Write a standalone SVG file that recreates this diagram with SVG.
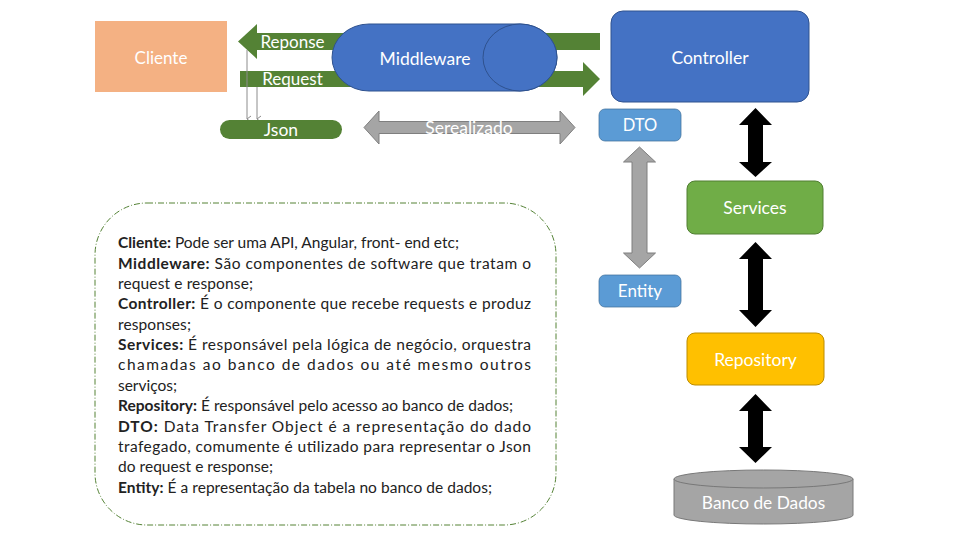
<svg xmlns="http://www.w3.org/2000/svg" width="960" height="540" viewBox="0 0 960 540">
<style>
.lbl{font-family:Lato,"Open Sans","Liberation Sans",sans-serif;fill:#fff;text-anchor:middle}
.body{font-family:Lato,"Open Sans","Liberation Sans",sans-serif;font-size:15.5px;fill:#222}
.b{font-weight:bold}
</style>
<defs>
<marker id="thin" markerWidth="8" markerHeight="8" refX="4" refY="7" orient="auto-start-reverse" markerUnits="userSpaceOnUse" viewBox="0 0 8 8">
<polyline points="1,3 4,7 7,3" fill="none" stroke="#8c8c8c" stroke-width="1"/>
</marker>
</defs>
<rect width="960" height="540" fill="#fff"/>
<g id="connectors">
<polygon points="238,41.5 257,24 257,33 600,33 600,50 257,50 257,59" fill="#548235"/>
<polygon points="240,71 583,71 583,62 600,79 583,96 583,87 240,87" fill="#548235"/>
<line x1="247" y1="50" x2="247" y2="119" stroke="#8c8c8c" stroke-width="1" marker-end="url(#thin)"/>
<line x1="257" y1="87" x2="257" y2="119" stroke="#8c8c8c" stroke-width="1" marker-end="url(#thin)"/>
<polygon points="364,127.5 379,111 379,121.5 560,121.5 560,111 575,127.5 560,144 560,133.5 379,133.5 379,144" fill="#A5A5A5" stroke="#7F7F7F" stroke-width="1"/>
<polygon points="639.5,147 655.5,162 647,162 647,253 655.5,253 639.5,268 623.5,253 632,253 632,162 623.5,162" fill="#A5A5A5" stroke="#7F7F7F" stroke-width="1"/>
<polygon points="755.5,108 772,125 763,125 763,162 772,162 755.5,177 739,162 748,162 748,125 739,125" fill="#000"/>
<polygon points="755.5,242 772,259 763,259 763,310 772,310 755.5,327 739,310 748,310 748,259 739,259" fill="#000"/>
<polygon points="755.5,394 772,411 763,411 763,447 772,447 755.5,463 739,447 748,447 748,411 739,411" fill="#000"/>
<text class="lbl" x="292.5" y="47.5" font-size="17">Reponse</text>
<text class="lbl" x="292.5" y="85" font-size="17">Request</text>
<text class="lbl" x="469" y="133.5" font-size="17.5">Serealizado</text>
</g>
<g id="cliente">
<rect x="95" y="21" width="132" height="71" fill="#F4B183"/>
<text class="lbl" x="161" y="64" font-size="17">Cliente</text>
</g>
<g id="middleware">
<path d="M369 24 H520 A37 33.5 0 0 1 520 91 H369 A37 33.5 0 0 1 369 24 Z" fill="#4472C4" stroke="#2F528F" stroke-width="1"/>
<ellipse cx="520" cy="57.5" rx="37" ry="33.5" fill="#4472C4" stroke="#2F528F" stroke-width="1"/>
<text class="lbl" x="425" y="64.5" font-size="17.5">Middleware</text>
</g>
<g id="json">
<rect x="220" y="120" width="122" height="19" rx="9.5" fill="#548235"/>
<text class="lbl" x="281" y="136" font-size="17.5">Json</text>
</g>
<g id="controller">
<rect x="611" y="11" width="198" height="91" rx="12" fill="#4472C4" stroke="#2F528F" stroke-width="1"/>
<text class="lbl" x="710" y="64" font-size="17.5">Controller</text>
</g>
<g id="dto">
<rect x="599" y="109" width="82" height="32" rx="6" fill="#5B9BD5" stroke="#41719C" stroke-width="0.75"/>
<text class="lbl" x="640" y="131" font-size="16.5">DTO</text>
</g>
<g id="entity">
<rect x="599" y="275" width="82" height="32" rx="6" fill="#5B9BD5" stroke="#41719C" stroke-width="0.75"/>
<text class="lbl" x="640" y="297" font-size="17">Entity</text>
</g>
<g id="services">
<rect x="687" y="181" width="136" height="53" rx="8" fill="#70AD47" stroke="#507E32" stroke-width="1"/>
<text class="lbl" x="755" y="213.5" font-size="17.5">Services</text>
</g>
<g id="repository">
<rect x="687" y="333" width="137" height="52" rx="8" fill="#FFC000" stroke="#BC8C00" stroke-width="1"/>
<text class="lbl" x="755.5" y="365.5" font-size="17.5">Repository</text>
</g>
<g id="banco">
<path d="M674 479 V515 A89.5 9 0 0 0 853 515 V479 Z" fill="#A5A5A5" stroke="#787878" stroke-width="1"/>
<ellipse cx="763.5" cy="479" rx="89.5" ry="9" fill="#A5A5A5" stroke="#787878" stroke-width="1"/>
<text class="lbl" x="763.5" y="508.5" font-size="17.3">Banco de Dados</text>
</g>
<g id="legenda">
<rect x="95" y="203" width="461" height="322" rx="52" fill="none" stroke="#548235" stroke-width="1" stroke-dasharray="6 2 1 2"/>
<text class="body" x="118" y="248" textLength="341" lengthAdjust="spacing"><tspan class="b">Cliente:</tspan> Pode ser uma API, Angular, front- end etc;</text>
<text class="body" x="118" y="269" textLength="413" lengthAdjust="spacing"><tspan class="b">Middleware:</tspan> São componentes de software que tratam o</text>
<text class="body" x="118" y="289" textLength="135" lengthAdjust="spacing">request e response;</text>
<text class="body" x="118" y="309" textLength="413" lengthAdjust="spacing"><tspan class="b">Controller:</tspan> É o componente que recebe requests e produz</text>
<text class="body" x="118" y="330" textLength="73" lengthAdjust="spacing">responses;</text>
<text class="body" x="118" y="350" textLength="413" lengthAdjust="spacing"><tspan class="b">Services:</tspan> É responsável pela lógica de negócio, orquestra</text>
<text class="body" x="118" y="370" textLength="413" lengthAdjust="spacing">chamadas ao banco de dados ou até mesmo outros</text>
<text class="body" x="118" y="391" textLength="59" lengthAdjust="spacing">serviços;</text>
<text class="body" x="118" y="411" textLength="395" lengthAdjust="spacing"><tspan class="b">Repository:</tspan> É responsável pelo acesso ao banco de dados;</text>
<text class="body" x="118" y="432" textLength="413" lengthAdjust="spacing"><tspan class="b">DTO:</tspan> Data Transfer Object é a representação do dado</text>
<text class="body" x="118" y="452" textLength="413" lengthAdjust="spacing">trafegado, comumente é utilizado para representar o Json</text>
<text class="body" x="118" y="472" textLength="155" lengthAdjust="spacing">do request e response;</text>
<text class="body" x="118" y="493" textLength="374" lengthAdjust="spacing"><tspan class="b">Entity:</tspan> É a representação da tabela no banco de dados;</text>
</g>
</svg>
